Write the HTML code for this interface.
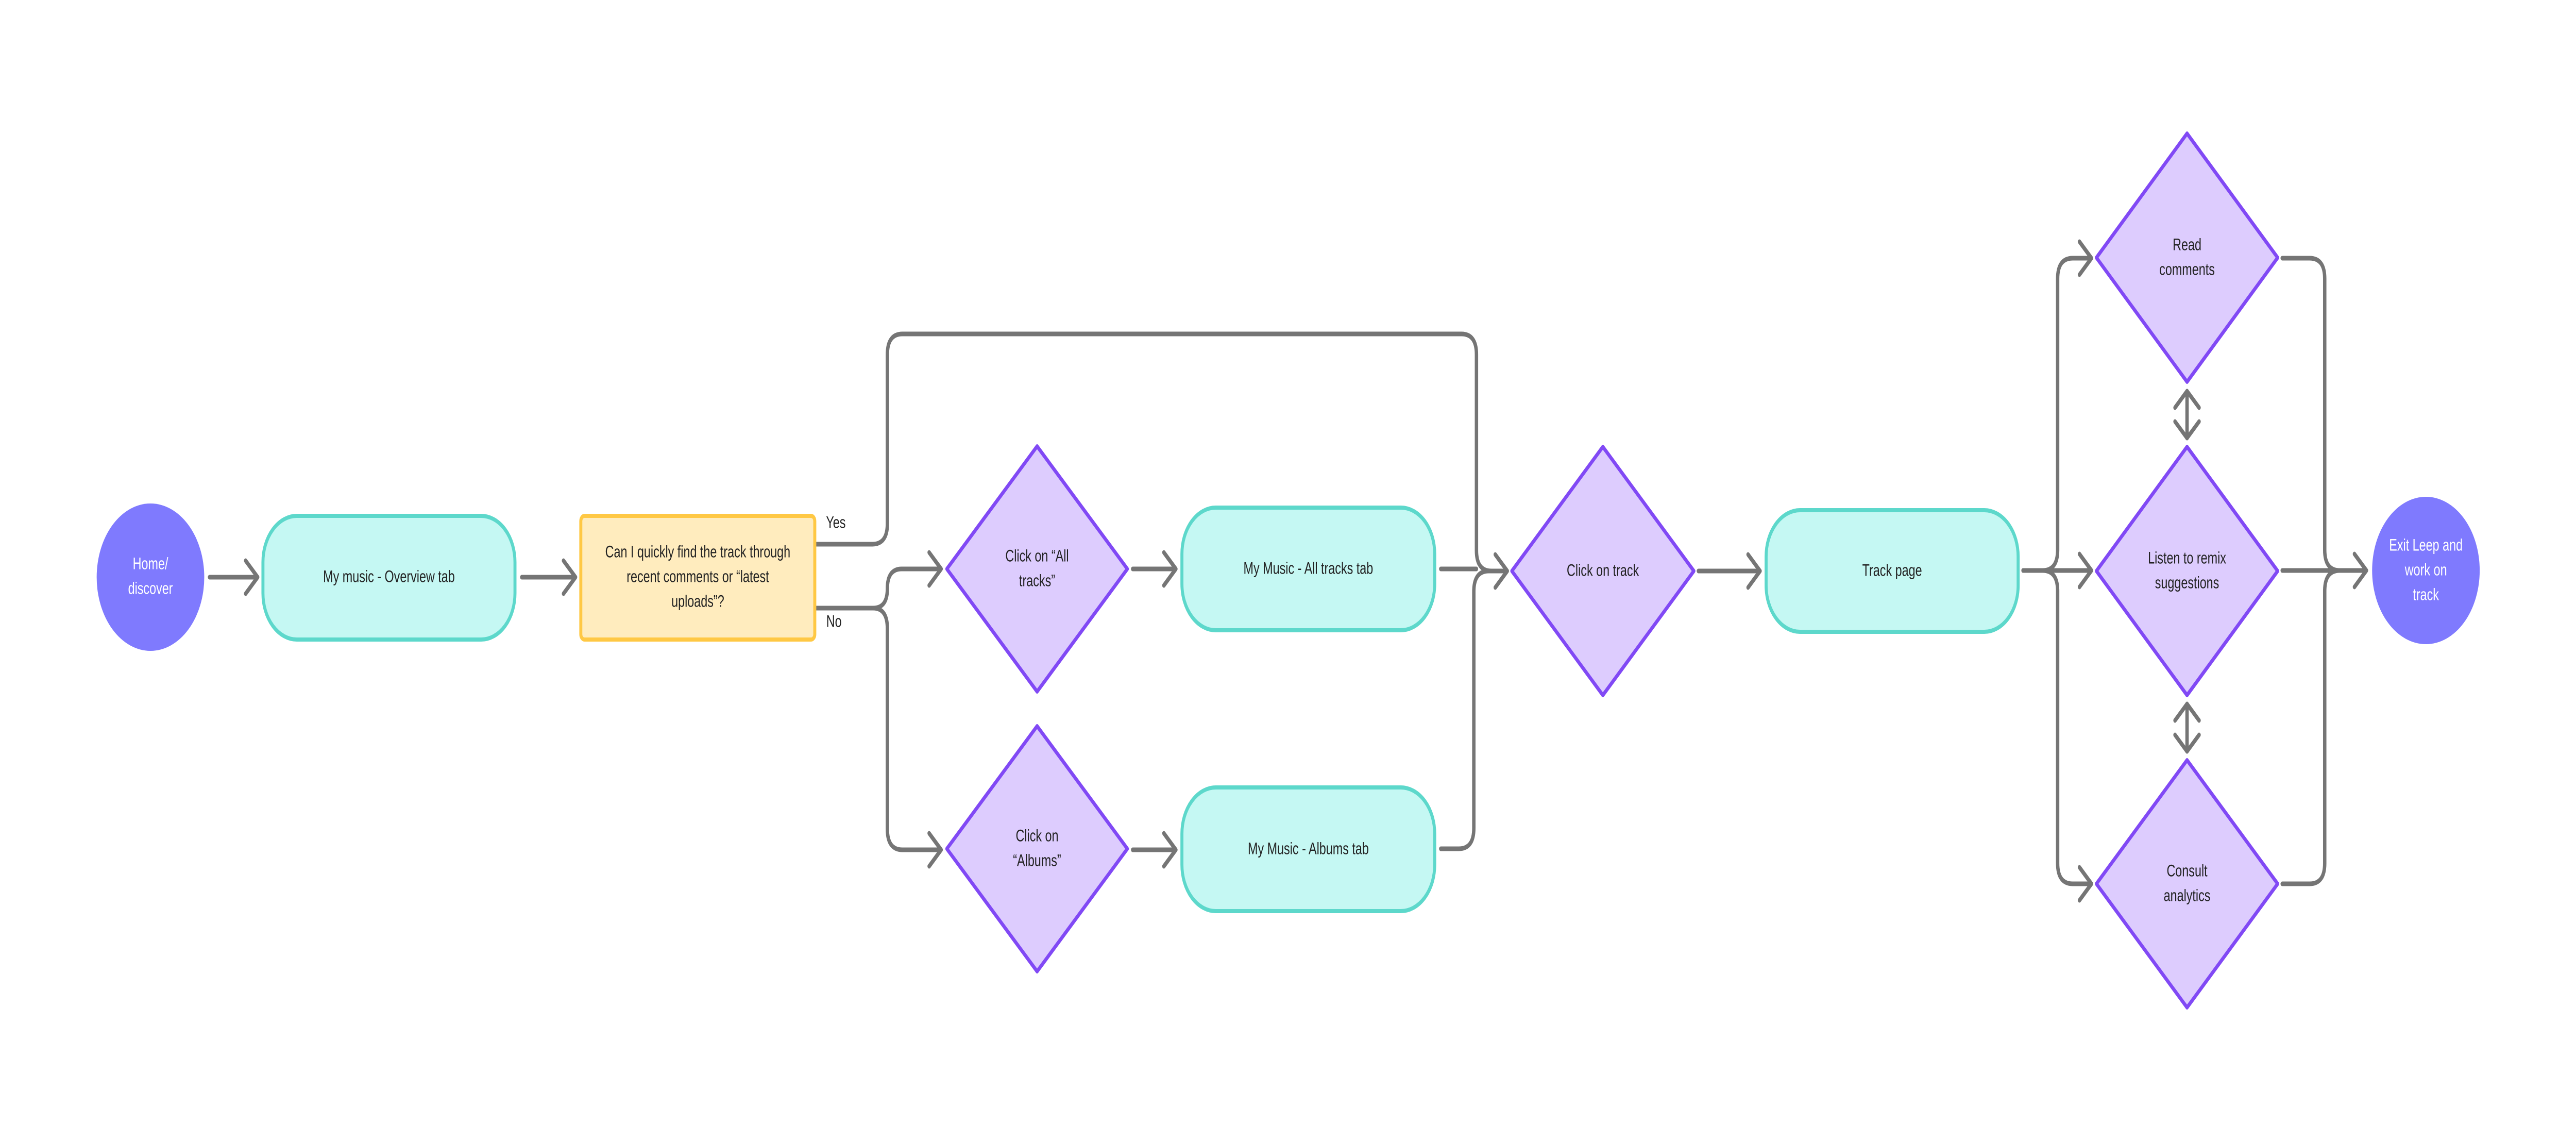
<!DOCTYPE html>
<html><head><meta charset="utf-8"><style>
html,body{margin:0;padding:0;background:#fff;width:100%;height:100%;overflow:hidden;}
svg{display:block;width:100vw;height:100vh}
text{font-family:"Liberation Sans",sans-serif;font-size:32px;fill:#222;text-anchor:middle;dominant-baseline:middle}
.c{fill:none;stroke:#757575;stroke-width:9;stroke-linecap:round;stroke-linejoin:round}
.d{fill:#DDCCFE;stroke:#8149F5;stroke-width:8;stroke-linejoin:round}
.b{fill:#C5F8F3;stroke:#5DD8CB;stroke-width:8}
</style></head><body>
<svg viewBox="0 0 6848 2216" preserveAspectRatio="none" xmlns="http://www.w3.org/2000/svg">
<rect width="6848" height="2216" fill="#fff"/>
<defs>
<g id="ah"><polyline class="c" points="-32,-32 0,0 -32,32"/></g>
</defs>
<g>
<path class="c" d="M557,1120 H683"/><use href="#ah" x="685" y="1120"/>
<path class="c" d="M1387,1120 H1528"/><use href="#ah" x="1530" y="1120"/>
<path class="c" d="M2170,1056 H2319 Q2359,1056 2359,1016 V688 Q2359,648 2399,648 H3885 Q3925,648 3925,688 V1068 Q3925,1108 3965,1108 H4005"/>
<use href="#ah" x="4007" y="1108"/>
<path class="c" d="M2170,1180 H2321 Q2359,1180 2359,1142 Q2359,1104 2397,1104 H2500"/><use href="#ah" x="2502" y="1104"/>
<path class="c" d="M2321,1180 Q2359,1180 2359,1220 V1609 Q2359,1649 2399,1649 H2500"/><use href="#ah" x="2502" y="1649"/>
<path class="c" d="M3011,1104 H3124"/><use href="#ah" x="3126" y="1104"/>
<path class="c" d="M3011,1649 H3124"/><use href="#ah" x="3126" y="1649"/>
<path class="c" d="M3830,1104 H3925"/>
<path class="c" d="M3830,1647 H3878 Q3918,1647 3918,1607 V1148 Q3918,1108 3958,1108 H4005"/>
<path class="c" d="M4515,1108 H4677"/><use href="#ah" x="4679" y="1108"/>
<path class="c" d="M5378,1107 H5430 Q5470,1107 5470,1067 V541 Q5470,501 5510,501 H5558"/><use href="#ah" x="5560" y="501"/>
<path class="c" d="M5378,1107 H5558"/><use href="#ah" x="5560" y="1107"/>
<path class="c" d="M5430,1107 Q5470,1107 5470,1147 V1675 Q5470,1715 5510,1715 H5558"/><use href="#ah" x="5560" y="1715"/>
<path class="c" d="M6067,501 H6140 Q6180,501 6180,541 V1067 Q6180,1107 6220,1107 H6289"/>
<path class="c" d="M6067,1715 H6140 Q6180,1715 6180,1675 V1147 Q6180,1107 6220,1107"/>
<path class="c" d="M6067,1107 H6289"/><use href="#ah" x="6291" y="1107"/>
<path class="c" d="M5814,759 V850"/>
<polyline class="c" points="5782,791 5814,759 5846,791"/><polyline class="c" points="5782,818 5814,850 5846,818"/>
<path class="c" d="M5814,1366 V1458"/>
<polyline class="c" points="5782,1398 5814,1366 5846,1398"/><polyline class="c" points="5782,1426 5814,1458 5846,1426"/>
</g>
<circle cx="400" cy="1120" r="143" fill="#7F7AFE"/>
<text x="400" y="1096" style="fill:#fff">Home/</text>
<text x="400" y="1144" style="fill:#fff">discover</text>

<rect class="b" x="699" y="1001" width="670" height="240" rx="90"/>
<text x="1034" y="1121">My music - Overview tab</text>

<rect x="1544" y="1001" width="622" height="240" rx="10" fill="#FFECBE" stroke="#FFC844" stroke-width="8"/>
<text x="1855" y="1073">Can I quickly find the track through</text>
<text x="1855" y="1121">recent comments or “latest</text>
<text x="1855" y="1169">uploads”?</text>
<text x="2222" y="1016">Yes</text>
<text x="2217" y="1208">No</text>

<polygon class="d" points="2757,866 2997,1104 2757,1342 2517,1104"/>
<text x="2757" y="1081">Click on “All</text><text x="2757" y="1129">tracks”</text>
<polygon class="d" points="2757,1409 2997,1647 2757,1885 2517,1647"/>
<text x="2757" y="1624">Click on</text><text x="2757" y="1672">“Albums”</text>

<rect class="b" x="3142" y="985" width="672" height="238" rx="90"/>
<text x="3478" y="1105">My Music - All tracks tab</text>
<rect class="b" x="3142" y="1528" width="672" height="240" rx="90"/>
<text x="3478" y="1649">My Music - Albums tab</text>

<polygon class="d" points="4261,867 4503,1108 4261,1349 4019,1108"/>
<text x="4261" y="1109">Click on track</text>

<rect class="b" x="4695" y="990" width="670" height="236" rx="90"/>
<text x="5030" y="1109">Track page</text>

<polygon class="d" points="5814,259 6055,500 5814,741 5573,500"/>
<text x="5814" y="477">Read</text><text x="5814" y="525">comments</text>
<polygon class="d" points="5814,867 6055,1108 5814,1349 5573,1108"/>
<text x="5814" y="1085">Listen to remix</text><text x="5814" y="1133">suggestions</text>
<polygon class="d" points="5814,1475 6055,1715 5814,1955 5573,1715"/>
<text x="5814" y="1692">Consult</text><text x="5814" y="1740">analytics</text>

<circle cx="6449" cy="1107" r="143" fill="#7F7AFE"/>
<text x="6449" y="1060" style="fill:#fff">Exit Leep and</text>
<text x="6449" y="1108" style="fill:#fff">work on</text>
<text x="6449" y="1156" style="fill:#fff">track</text>
</svg>
</body></html>
